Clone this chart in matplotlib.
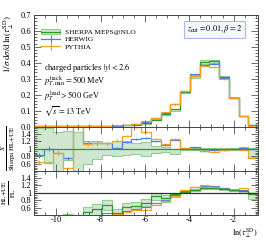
import numpy as np
import matplotlib
matplotlib.use("Agg")
import matplotlib.pyplot as plt
from matplotlib.patches import Patch
from matplotlib.lines import Line2D
from matplotlib.ticker import MultipleLocator, FixedLocator, FixedFormatter

# ── Data ─────────────────────────────────────────────────────────────────────
X_MIN, X_MAX, N_BINS = -11.0, -0.9, 23
edges = np.linspace(X_MIN, X_MAX, N_BINS + 1)

sherpa = [0.0004, 0.0006, 0.0008, 0.0012, 0.0015, 0.0020, 0.0029, 0.0040,
          0.0055, 0.0080, 0.0115, 0.0225, 0.043, 0.079, 0.112, 0.216,
          0.314, 0.405, 0.410, 0.310, 0.180, 0.065, 0.008]
herwig = [0.00033, 0.0006, 0.00071, 0.0009, 0.00255, 0.00234, 0.00334, 0.0046,
          0.00567, 0.0094, 0.0146, 0.0288, 0.0516, 0.0877, 0.139, 0.220,
          0.327, 0.385, 0.394, 0.304, 0.180, 0.067, 0.008]
pythia = [0.00026, 0.00038, 0.00071, 0.00059, 0.00255, 0.00226, 0.00334, 0.0046,
          0.0067, 0.0108, 0.0182, 0.0329, 0.0546, 0.0893, 0.142, 0.220,
          0.314, 0.381, 0.373, 0.298, 0.180, 0.0637, 0.0061]

# Sherpa uncertainty band (relative to Sherpa central)
band_lo = [0.80, 0.65, 0.40, 0.70, 0.40, 0.60, 0.72, 0.84, 0.80, 0.83, 0.85, 0.82,
           0.90, 0.92, 0.85, 0.96, 0.97, 0.97, 0.97, 0.98, 0.98, 0.97, 0.78]
band_hi = [1.56, 1.56, 1.45, 1.47, 1.45, 1.22, 1.22, 1.17, 1.21, 1.22, 1.16, 1.18,
           1.08, 1.05, 1.00, 1.03, 1.03, 1.03, 1.02, 1.02, 1.02, 1.04, 1.03]

# relative stat. errors of Herwig / Pythia
herwig_err = [0.08, 0.07, 0.06, 0.05, 0.05, 0.04, 0.04, 0.03, 0.03, 0.02, 0.02, 0.02,
              0.01, 0.01, 0.01, 0.01, 0.01, 0.01, 0.01, 0.01, 0.01, 0.01, 0.02]
pythia_err = [0.08, 0.07, 0.06, 0.05, 0.05, 0.04, 0.04, 0.03, 0.03, 0.02, 0.02, 0.02,
              0.01, 0.01, 0.01, 0.01, 0.01, 0.01, 0.01, 0.01, 0.01, 0.01, 0.02]

# HL+UE / PL
sherpa_np = [0.20, 0.20, 0.25, 0.35, 0.30, 0.49, 0.56, 0.67, 0.47, 0.61, 0.65, 0.74,
             0.92, 0.85, 0.96, 1.03, 1.08, 1.14, 1.14, 1.10, 1.08, 1.04, 0.96]
sherpa_np_lo = [0.10, 0.10, 0.15, 0.30, 0.20, 0.38, 0.42, 0.55, 0.40, 0.50, 0.55, 0.66,
                0.80, 0.75, 0.90, 0.99, 1.05, 1.11, 1.11, 1.07, 1.05, 1.00, 0.83]
sherpa_np_hi = [0.30, 0.30, 0.35, 0.44, 0.40, 0.63, 0.70, 0.81, 0.56, 0.74, 0.76, 0.83,
                1.00, 0.95, 1.00, 1.06, 1.10, 1.16, 1.16, 1.12, 1.10, 1.06, 1.00]
herwig_np = [0.10, 0.10, 0.10, 0.20, 0.20, 0.30, 0.35, 0.47, 0.42, 0.52, 0.58, 0.62,
             0.72, 0.82, 0.94, 1.06, 1.15, 1.18, 1.18, 1.12, 1.08, 1.08, 1.00]
pythia_np = [0.10, 0.10, 0.10, 0.20, 0.20, 0.30, 0.33, 0.38, 0.43, 0.49, 0.55, 0.55,
             0.67, 0.79, 0.92, 1.08, 1.17, 1.20, 1.17, 1.10, 1.08, 1.12, 1.00]

GREEN = "#2a9a2a"
BAND = "#cfe6cf"
BAND_EDGE = "#8fcf8f"
BLUE = "#4f7fe6"
ORANGE = "#f7a21b"

# ── Style ────────────────────────────────────────────────────────────────────
plt.rcParams["font.family"] = ["Liberation Serif", "DejaVu Serif"]
plt.rcParams["mathtext.fontset"] = "stix"
plt.rcParams["axes.unicode_minus"] = False
plt.rcParams["font.size"] = 6

fig = plt.figure(figsize=(2.66, 2.40), dpi=100)
L, W = 34 / 266, 224 / 266
ax0 = fig.add_axes([L, 1 - 126.5 / 240, W, 111.5 / 240])
ax1 = fig.add_axes([L, 1 - 170.5 / 240, W, 44.0 / 240])
ax2 = fig.add_axes([L, 1 - 214.5 / 240, W, 44.0 / 240])

sherpa = np.array(sherpa)
herwig = np.array(herwig)
pythia = np.array(pythia)
centers = 0.5 * (edges[:-1] + edges[1:])
lo, hi = np.array(band_lo), np.array(band_hi)

# ── Main panel ───────────────────────────────────────────────────────────────
ax0.stairs(sherpa * hi, edges, baseline=sherpa * lo, fill=True, color=BAND, lw=0)
ax0.stairs(sherpa * hi, edges, color=BAND_EDGE, lw=0.8)
ax0.stairs(sherpa * lo, edges, color=BAND_EDGE, lw=0.8)
ax0.stairs(sherpa, edges, color=GREEN, lw=0.9)
ax0.stairs(herwig, edges, color=BLUE, lw=0.9)
ax0.stairs(pythia, edges, color=ORANGE, lw=0.9)
ax0.errorbar(centers, herwig, yerr=herwig * herwig_err, fmt="none", ecolor=BLUE, lw=0.8)
ax0.errorbar(centers, pythia, yerr=pythia * pythia_err, fmt="none", ecolor=ORANGE, lw=0.8)
ax0.set_ylim(0, 0.7)
ax0.yaxis.set_major_locator(MultipleLocator(0.1))
ax0.yaxis.set_minor_locator(MultipleLocator(0.02))
ax0.set_ylabel(r"$1/\sigma\;\mathrm{d}\sigma/\mathrm{d}\,\ln(\tau_\perp^{\mathrm{SD}})$",
               fontsize=6.5, loc="top", labelpad=3)

handles = [
    (Patch(facecolor=BAND, edgecolor=BAND_EDGE, lw=0.8), Line2D([], [], color=GREEN, lw=0.9)),
    Line2D([], [], color=BLUE, lw=0.9, marker="|", markersize=6, markeredgewidth=0.8),
    Line2D([], [], color=ORANGE, lw=0.9, marker="|", markersize=6, markeredgewidth=0.8),
]
labels = ["SHERPA MEPS@NLO", "HERWIG", "PYTHIA"]
ax0.legend(handles, labels, loc="upper left", bbox_to_anchor=(0.0, 0.94),
           frameon=False, fontsize=5.3, handlelength=2.6, handletextpad=0.6,
           labelspacing=0.15, borderaxespad=0.6)

info = ("charged particles $|y| < 2.6$\n"
        r"$p_{T,\mathrm{min}}^{\mathrm{track}} = 500$ MeV" "\n"
        r"$p_T^{\mathrm{lead}} > 500$ GeV" "\n"
        r"$\sqrt{s} = 13$ TeV")
ax0.text(0.045, 0.585, info, transform=ax0.transAxes, fontsize=6, va="top",
         linespacing=1.05)

ax0.text(0.93, 0.87, r"$z_{\mathrm{cut}} = 0.01, \beta = 2$", transform=ax0.transAxes,
         fontsize=6, ha="right", va="center",
         bbox=dict(boxstyle="square,pad=0.35", facecolor="#f5f7ff", edgecolor="#a9b9ef", lw=0.8))

# ── Ratio to Sherpa ──────────────────────────────────────────────────────────
ax1.stairs(hi, edges, baseline=lo, fill=True, color=BAND, lw=0)
ax1.stairs(hi, edges, color=BAND_EDGE, lw=0.8)
ax1.stairs(lo, edges, color=BAND_EDGE, lw=0.8)
ax1.axhline(1, color=GREEN, lw=0.9)
ax1.stairs(herwig / sherpa, edges, color=BLUE, lw=0.9)
ax1.stairs(pythia / sherpa, edges, color=ORANGE, lw=0.9)
ax1.errorbar(centers, herwig / sherpa, yerr=herwig / sherpa * herwig_err, fmt="none",
             ecolor=BLUE, lw=0.8)
ax1.errorbar(centers, pythia / sherpa, yerr=pythia / sherpa * pythia_err, fmt="none",
             ecolor=ORANGE, lw=0.8)
ax1.set_ylabel(r"$\frac{X}{\mathrm{Sherpa\ HL{+}UE}}$", fontsize=7, labelpad=2)

# ── Non-perturbative corrections ─────────────────────────────────────────────
ax2.stairs(sherpa_np_hi, edges, baseline=sherpa_np_lo, fill=True, color=BAND, lw=0)
ax2.stairs(sherpa_np_hi, edges, color=BAND_EDGE, lw=0.8)
ax2.stairs(sherpa_np_lo, edges, color=BAND_EDGE, lw=0.8)
ax2.axhline(1, color="#333333", lw=0.9)
ax2.stairs(herwig_np, edges, color=BLUE, lw=0.9)
ax2.stairs(pythia_np, edges, color=ORANGE, lw=0.9)
ax2.stairs(sherpa_np, edges, color=GREEN, lw=0.9)
ax2.set_ylabel(r"$\frac{\mathrm{HL{+}UE}}{\mathrm{PL}}$", fontsize=7, labelpad=2)
fig.text(258 / 266, 0.5 / 240, r"$\ln(\tau_\perp^{\mathrm{SD}})$", fontsize=6.0,
         ha="right", va="bottom")

for ax in (ax1, ax2):
    ax.set_ylim(0.42, 1.6)
    ax.yaxis.set_major_locator(FixedLocator([0.6, 0.8, 1.0, 1.2, 1.4]))
    ax.yaxis.set_major_formatter(FixedFormatter(["0.6", "0.8", "1", "1.2", "1.4"]))
    ax.yaxis.set_minor_locator(MultipleLocator(0.05))

xticks = [-10, -8, -6, -4, -2]
for ax in (ax0, ax1, ax2):
    ax.set_xlim(X_MIN, X_MAX)
    ax.set_xticks(xticks)
    ax.xaxis.set_minor_locator(MultipleLocator(0.5))
    ax.tick_params(which="both", direction="in", top=True, right=True,
                   colors="#555555", labelcolor="black", labelsize=6, width=0.6, pad=2)
    ax.tick_params(which="major", length=5)
    ax.tick_params(which="minor", length=2.5)
    for s in ax.spines.values():
        s.set_color("#444444")
        s.set_linewidth(0.7)

ax2.tick_params(axis="x", pad=0.8)
ax0.set_xticklabels([])
ax1.set_xticklabels([])
ax2.set_xticklabels([str(t) for t in xticks])

fig.savefig("out.png", dpi=100)
